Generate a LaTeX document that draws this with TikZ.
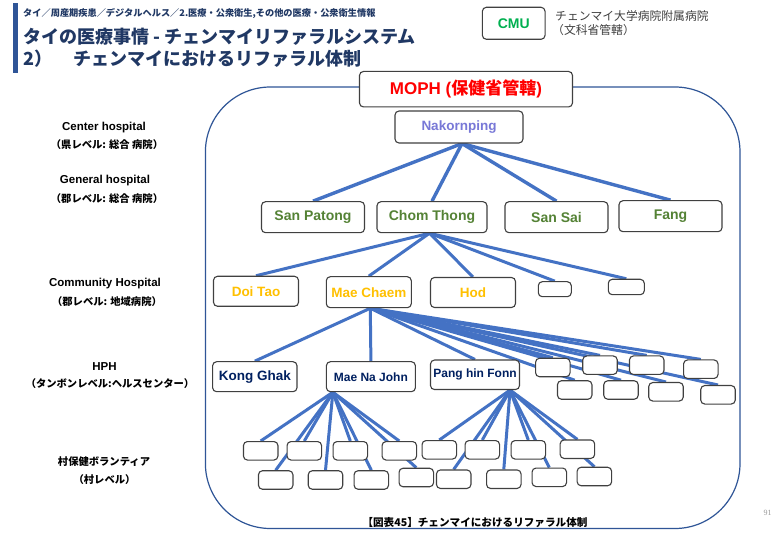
\documentclass[tikz,border=0pt]{standalone}
\usepackage{fontspec}
\setmainfont{Liberation Sans}
\newfontfamily\jp{Noto Sans CJK JP}
\newfontfamily\pgnumfont{Liberation Serif}
\newcommand\fsz[1]{\fontsize{#1}{#1}\selectfont}
\definecolor{navyt}{RGB}{32,56,100}
\definecolor{linec}{RGB}{68,114,196}
\definecolor{boxc}{RGB}{64,64,64}
\definecolor{framec}{RGB}{47,85,151}
\definecolor{purp}{RGB}{120,120,215}
\definecolor{grn}{RGB}{84,130,53}
\definecolor{org}{RGB}{255,192,0}
\definecolor{navyn}{RGB}{0,32,96}
\definecolor{cmug}{RGB}{0,176,80}
\definecolor{grayt}{RGB}{64,64,64}
\pgfdeclarelayer{back}
\pgfdeclarelayer{bg}
\pgfsetlayers{back,bg,main}
\tikzset{
  box/.style={draw=boxc, line width=1.1pt, rounded corners=4pt, fill=white, inner sep=0pt},
  sbox/.style={box, minimum width=34.5pt, minimum height=18.5pt},
  conn/.style={draw=linec, line width=3pt},
  tconn/.style={draw=linec, line width=3.4pt},
  lblA/.style={font=\bfseries\fsz{11.5}, inner sep=0pt},
  lblJ/.style={font=\jp\bfseries\fsz{10.3}, inner sep=0pt},
  l2/.style={box, minimum width=103pt, minimum height=31pt, text=grn, font=\bfseries\fsz{14}},
  l3/.style={box, minimum width=85pt, minimum height=30pt, text=org, font=\bfseries\fsz{13.5}},
  l4/.style={box, minimum width=89pt, minimum height=30pt, text=navyn, font=\bfseries\fsz{12}},
}
\begin{document}
\begin{tikzpicture}[x=1pt,y=-1pt]
\useasboundingbox (0,0) rectangle (780,540);
\begin{pgfonlayer}{back}
\fill[white] (0,0) rectangle (780,540);
\end{pgfonlayer}

% header
\fill[framec] (13,3) rectangle (18,73);
\node[anchor=west, inner sep=0pt, text=navyt, font=\jp\bfseries\fsz{9.2}] (crumb) at (23,14)
  {タイ／周産期疾患／デジタルヘルス／2.医療・公衆衛生,その他の医療・公衆衛生情報};
\node[anchor=west, inner sep=0pt, text=navyt, font=\jp\bfseries\fsz{18}] (title1) at (23,37)
  {タイの医療事情 - チェンマイリファラルシステム};
\node[anchor=west, inner sep=0pt, text=navyt, font=\jp\bfseries\fsz{18}] (title2a) at (23,59) {2）};
\node[anchor=west, inner sep=0pt, text=navyt, font=\jp\bfseries\fsz{18}] (title2b) at (73,59)
  {チェンマイにおけるリファラル体制};

% CMU legend
\node[box, minimum width=62.7pt, minimum height=32pt, text=cmug, font=\bfseries\fsz{14}] (cmu) at (513.7,23.3) {CMU};
\node[anchor=west, inner sep=0pt, text=grayt, font=\jp\fsz{11.8}] (cmut1) at (555,16) {チェンマイ大学病院附属病院};
\node[anchor=west, inner sep=0pt, text=grayt, font=\jp\fsz{11.8}] (cmut2) at (552,30) {（文科省管轄）};

% frame
\node[draw=framec, line width=1.2pt, rounded corners=65pt, minimum width=534.6pt, minimum height=441.5pt, inner sep=0pt] (frame) at (472.7,307.75) {};
\node[font=\jp\bfseries\fsz{10.6}, inner sep=0pt] (cap) at (475,522.5) {【図表45】チェンマイにおけるリファラル体制};
\node[font=\pgnumfont\fsz{8}, text=gray!80, inner sep=0pt] (pg) at (767.5,513) {91};

% left labels
\node[lblA] (la1) at (104,128) {Center hospital};
\node[lblJ] (lj1) at (107,145) {（県レベル: 総合 病院）};
\node[lblA] (la2) at (105,181) {General hospital};
\node[lblJ] (lj2) at (107,198.5) {（郡レベル: 総合 病院）};
\node[lblA] (la3) at (105,284) {Community Hospital};
\node[lblJ] (lj3) at (107,301.5) {（郡レベル: 地域病院）};
\node[lblA] (la4) at (104.5,367) {HPH};
\node[lblJ] (lj4) at (110,384) {（タンボンレベル:ヘルスセンター）};
\node[lblJ] (lj5a) at (104,462) {村保健ボランティア};
\node[lblJ] (lj5b) at (104.5,480) {（村レベル）};

% top
\node[box, minimum width=213pt, minimum height=35.5pt, text=red, font=\bfseries\fsz{17}] (moph) at (466,89.2) {MOPH ({\jp 保健省管轄})};
\node[box, minimum width=128pt, minimum height=32pt, text=purp, font=\bfseries\fsz{13.5}] (nak) at (459,127) {Nakornping};

% level 2
\node[l2] (sp) at (313,217.2) {San Patong};
\node[l2, minimum width=110pt] (ct) at (432,217.2) {Chom Thong};
\node[l2] (ss) at (556.5,217.2) {San Sai};
\node[l2] (fang) at (670.5,216.2) {Fang};

% level 3
\node[l3, text depth=0pt] (dt) at (256,291.3) {Doi Tao};
\node[l3, minimum height=31pt, text depth=0pt] (mc) at (368.8,292.2) {Mae Chaem};
\node[l3, text depth=0pt] (hod) at (473,292.5) {Hod};
\node[box, minimum width=33pt, minimum height=15pt] (s1) at (554.8,289.2) {};
\node[box, minimum width=36pt, minimum height=15.4pt] (s2) at (626.3,287) {};

% level 4
\node[l4, minimum width=84.4pt, font=\bfseries\fsz{13.5}] (kg) at (254.8,376.7) {Kong Ghak};
\node[l4, text depth=0pt] (mnj) at (370.9,376.7) {Mae Na John};
\node[l4, minimum height=29.5pt] (pang) at (475,374.8) {Pang hin Fonn};
\node[sbox] (ha) at (552.8,367.5) {};
\node[sbox] (hb) at (600,365.2) {};
\node[sbox] (hc) at (646.7,365.2) {};
\node[sbox] (hd) at (700.8,369.2) {};
\node[sbox] (he) at (574.7,390) {};
\node[sbox] (hf) at (621,390) {};
\node[sbox] (hg) at (666,391.8) {};
\node[sbox] (hh) at (718,394.8) {};

% level 5
\node[sbox] (u1) at (260.7,450.8) {};
\node[sbox] (u2) at (304.3,450.8) {};
\node[sbox] (u3) at (350.3,450.8) {};
\node[sbox] (u4) at (399.3,450.8) {};
\node[sbox] (u5) at (439.3,449.8) {};
\node[sbox] (u6) at (482.3,449.8) {};
\node[sbox] (u7) at (528.3,449.8) {};
\node[sbox] (u8) at (577.4,449.2) {};
\node[sbox] (v1) at (275.7,480) {};
\node[sbox] (v2) at (325.5,480) {};
\node[sbox] (v3) at (371.3,480) {};
\node[sbox] (v4) at (416.3,477.5) {};
\node[sbox] (v5) at (453.7,479.2) {};
\node[sbox] (v6) at (503.8,479.2) {};
\node[sbox] (v7) at (549.3,477.3) {};
\node[sbox] (v8) at (594.4,476.5) {};

% connectors
\begin{pgfonlayer}{bg}
  \foreach \t in {sp,ct,ss,fang} \draw[tconn] ([xshift=3]nak.south) -- (\t.north);
  \foreach \t in {dt,mc,hod,s1,s2} \draw[conn] ([xshift=-2.5]ct.south) -- (\t.north);
  \foreach \t in {kg,mnj,pang,ha,hb,hc,hd,he,hf,hg,hh} \draw[conn] ([xshift=1.5]mc.south) -- (\t.north);
  \foreach \t in {u1,u2,u3,u4,v1,v2,v3,v4} \draw[conn] ([xshift=7]mnj.south west) -- (\t.north);
  \foreach \t in {u5,u6,u7,u8,v5,v6,v7,v8} \draw[conn] ([xshift=-10]pang.south east) -- (\t.north);
\end{pgfonlayer}
\end{tikzpicture}
\end{document}
